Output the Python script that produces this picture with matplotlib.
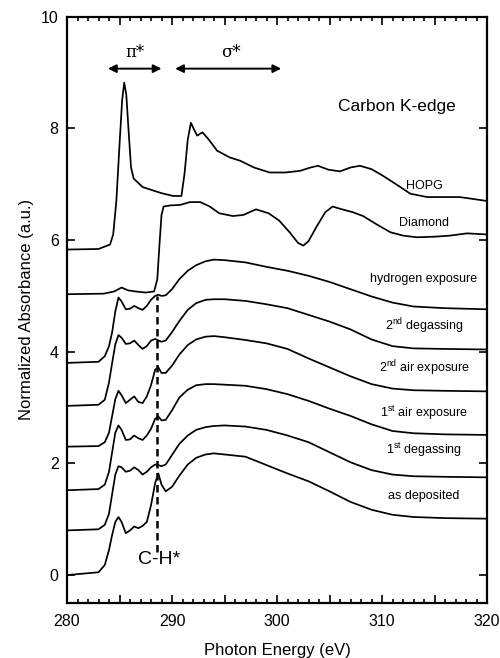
import matplotlib
matplotlib.use("Agg")
import matplotlib.pyplot as plt
from matplotlib.ticker import MultipleLocator, FuncFormatter

plt.rcParams['font.family'] = ['Liberation Sans', 'DejaVu Sans']
plt.rcParams['mathtext.fontset'] = 'custom'
plt.rcParams['mathtext.rm'] = 'Liberation Sans'

# photon energy grid shared by the film spectra (eV)
e_film = [280, 283.0, 283.6, 284.0, 284.3, 284.6, 284.9, 285.2, 285.6, 286.0, 286.4,
          286.8, 287.2, 287.6, 288.0, 288.4, 288.7, 289.0, 289.4, 290.0, 290.7, 291.5,
          292.3, 293.2, 294.0, 295, 297, 299, 301, 303, 305, 307, 309, 311, 313, 316, 320]

as_deposited = [0.0, 0.05, 0.18, 0.45, 0.72, 0.95, 1.04, 0.95, 0.75, 0.80, 0.87,
                0.84, 0.88, 0.95, 1.25, 1.65, 1.82, 1.62, 1.50, 1.58, 1.78, 1.98,
                2.10, 2.16, 2.18, 2.16, 2.12, 1.97, 1.82, 1.68, 1.50, 1.31, 1.17, 1.08, 1.04, 1.02, 1.01]
degas_1 = [0.80, 0.82, 0.90, 1.10, 1.45, 1.80, 1.95, 1.93, 1.85, 1.87, 1.93,
           1.88, 1.80, 1.85, 1.93, 1.98, 1.97, 1.95, 1.98, 2.15, 2.35, 2.50,
           2.60, 2.65, 2.67, 2.68, 2.66, 2.60, 2.50, 2.38, 2.20, 2.02, 1.88, 1.80, 1.77, 1.76, 1.75]
air_1 = [1.52, 1.54, 1.62, 1.85, 2.20, 2.55, 2.68, 2.60, 2.42, 2.43, 2.50,
         2.45, 2.42, 2.50, 2.62, 2.80, 2.84, 2.77, 2.78, 2.95, 3.18, 3.32,
         3.40, 3.42, 3.42, 3.41, 3.39, 3.33, 3.24, 3.12, 2.98, 2.85, 2.70, 2.58, 2.54, 2.52, 2.51]
air_2 = [2.30, 2.31, 2.38, 2.55, 2.85, 3.15, 3.30, 3.22, 3.08, 3.14, 3.20,
         3.10, 3.08, 3.20, 3.40, 3.68, 3.72, 3.62, 3.62, 3.75, 3.95, 4.12,
         4.22, 4.27, 4.28, 4.26, 4.21, 4.15, 4.05, 3.88, 3.72, 3.56, 3.42, 3.34, 3.31, 3.30, 3.29]
degas_2 = [3.03, 3.05, 3.14, 3.45, 3.80, 4.13, 4.30, 4.25, 4.14, 4.15, 4.20,
           4.12, 4.05, 4.10, 4.20, 4.23, 4.20, 4.18, 4.20, 4.35, 4.55, 4.75,
           4.87, 4.93, 4.94, 4.94, 4.91, 4.85, 4.78, 4.66, 4.54, 4.40, 4.22, 4.10, 4.06, 4.05, 4.04]
hydrogen = [3.80, 3.82, 3.92, 4.10, 4.35, 4.72, 4.97, 4.90, 4.76, 4.77, 4.82,
            4.78, 4.75, 4.82, 4.93, 5.00, 5.02, 5.00, 5.01, 5.12, 5.30, 5.45,
            5.55, 5.62, 5.65, 5.64, 5.60, 5.52, 5.45, 5.36, 5.25, 5.12, 4.99, 4.88, 4.81, 4.78, 4.76]

# reference spectra
e_diamond = [280, 283.5, 284.5, 285.2, 285.8, 286.5, 287.5, 288.3, 288.6, 288.8, 289.0,
             289.2, 289.8, 290.8, 291.7, 292.7, 293.6, 294.5, 295.8, 296.8, 298.0, 299.2,
             300.2, 301.2, 302.0, 302.5, 303.0, 303.8, 304.6, 305.3, 306.2, 307.2, 308.2,
             309.5, 310.8, 312.0, 313.3, 315.0, 316.5, 318.1, 320]
diamond = [5.03, 5.04, 5.08, 5.15, 5.10, 5.08, 5.06, 5.08, 5.30, 5.90, 6.45,
           6.60, 6.62, 6.63, 6.68, 6.68, 6.60, 6.48, 6.43, 6.45, 6.55, 6.48,
           6.35, 6.14, 5.95, 5.90, 5.98, 6.25, 6.50, 6.60, 6.55, 6.50, 6.43,
           6.28, 6.14, 6.08, 6.05, 6.06, 6.08, 6.12, 6.10]

e_hopg = [280, 283.0, 284.1, 284.4, 284.7, 285.0, 285.25, 285.45, 285.65, 285.85, 286.1,
          286.35, 287.2, 288.0, 289.0, 290.1, 290.9, 291.2, 291.5, 291.8, 292.1, 292.4,
          292.9, 293.5, 294.3, 295.5, 296.5, 297.8, 299.3, 300.8, 302.2, 303.2, 303.9,
          304.9, 306.0, 307.0, 307.9, 309.0, 310.1, 311.5, 312.7, 314.3, 316.0, 317.4, 320]
hopg = [5.83, 5.84, 5.92, 6.10, 6.70, 7.70, 8.50, 8.82, 8.60, 8.00, 7.30,
        7.10, 6.95, 6.90, 6.84, 6.79, 6.79, 7.20, 7.80, 8.10, 7.98, 7.87,
        7.93, 7.80, 7.60, 7.48, 7.42, 7.30, 7.21, 7.21, 7.24, 7.30, 7.33,
        7.26, 7.23, 7.30, 7.33, 7.27, 7.15, 6.98, 6.83, 6.77, 6.77, 6.77, 6.70]

labels = ['HOPG', 'Diamond', 'hydrogen exposure', r'2$^{\mathregular{nd}}$ degassing',
          r'2$^{\mathregular{nd}}$ air exposure', r'1$^{\mathregular{st}}$ air exposure',
          r'1$^{\mathregular{st}}$ degassing', 'as deposited']
label_y = [6.97, 6.30, 5.31, 4.46, 3.71, 2.91, 2.24, 1.41]

fig = plt.figure(figsize=(5, 6.58), dpi=100)
ax = fig.add_axes([0.134, 0.0836, 0.840, 0.891])

for e, y in [(e_hopg, hopg), (e_diamond, diamond), (e_film, hydrogen), (e_film, degas_2),
             (e_film, air_2), (e_film, air_1), (e_film, degas_1), (e_film, as_deposited)]:
    ax.plot(e, y, color='black', lw=1.25, solid_joinstyle='round')

for text, y in zip(labels, label_y):
    ax.text(314.0, y, text, fontsize=9, ha='center', va='center')

# C-H* resonance marker
ax.plot([288.6, 288.6], [0.42, 5.0], color='black', lw=1.8, ls=(0, (3, 1.8)))
ax.text(288.8, 0.27, 'C-H*', fontsize=14, ha='center', va='center')

# pi* and sigma* regions
arrow = dict(arrowstyle='<|-|>', color='black', lw=1.4, mutation_scale=12, shrinkA=0, shrinkB=0)
ax.annotate('', xy=(283.9, 9.07), xytext=(289.0, 9.07), arrowprops=arrow)
ax.annotate('', xy=(290.3, 9.07), xytext=(300.4, 9.07), arrowprops=arrow)
ax.text(286.5, 9.36, 'π*', fontsize=12, ha='center', va='center', family='DejaVu Serif')
ax.text(295.6, 9.36, 'σ*', fontsize=12, ha='center', va='center', family='DejaVu Serif')
ax.text(311.4, 8.4, 'Carbon K-edge', fontsize=12.5, ha='center', va='center')

ax.set_xlim(280, 320)
ax.set_ylim(-0.5, 10)
ax.xaxis.set_major_locator(MultipleLocator(5))
ax.xaxis.set_minor_locator(MultipleLocator(1))
ax.xaxis.set_major_formatter(FuncFormatter(lambda v, p: f'{v:.0f}' if v % 10 == 0 else ''))
ax.yaxis.set_major_locator(MultipleLocator(2))
ax.tick_params(which='both', direction='in', top=True, right=True, width=1.2)
ax.tick_params(which='major', length=6, labelsize=11.5)
ax.tick_params(axis='x', which='major', pad=8)
ax.tick_params(axis='y', which='major', pad=6)
ax.tick_params(which='minor', length=3)
for s in ax.spines.values():
    s.set_linewidth(1.6)

ax.set_xlabel('Photon Energy (eV)', fontsize=12, labelpad=10)
ax.set_ylabel('Normalized Absorbance (a.u.)', fontsize=12, labelpad=5)

fig.savefig('out.png', dpi=100)
